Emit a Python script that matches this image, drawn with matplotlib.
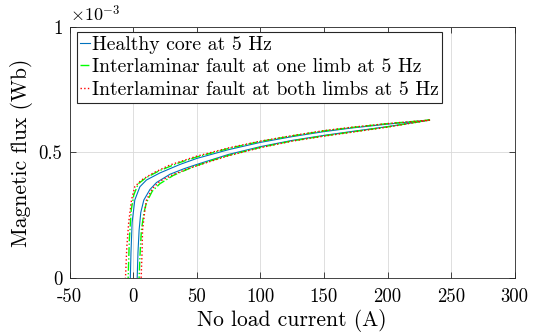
import numpy as np
import matplotlib
matplotlib.use("Agg")
import matplotlib.pyplot as plt

plt.rcParams['font.family'] = 'serif'
plt.rcParams['font.serif'] = ['cmr10', 'DejaVu Serif']
plt.rcParams['mathtext.fontset'] = 'cm'
plt.rcParams['axes.unicode_minus'] = False

# ----- Data (flux in 1e-3 Wb, current in A) -----
# each loop: rising (lower) branch, then falling (upper) branch
healthy_x = [3.0, 3.2, 3.8, 4.7, 6.0, 8.4, 13.2, 18.4, 29, 40, 50, 75, 100, 125, 150, 171, 200, 233,
             200, 171, 150, 125, 100, 75, 50, 36.8, 21, 10.5, 5.3, 1.3, -0.8, -1.7, -2.2, -2.3]
healthy_y = [-0.03, 0, 0.1, 0.19, 0.26, 0.31, 0.352, 0.38, 0.413, 0.435, 0.452, 0.492, 0.523, 0.548, 0.568, 0.583, 0.603, 0.629,
             0.613, 0.597, 0.583, 0.563, 0.540, 0.511, 0.476, 0.452, 0.418, 0.39, 0.363, 0.31, 0.22, 0.1, 0, -0.03]

one_limb_x = [4.5, 4.7, 5.5, 6.5, 8.5, 10.5, 15, 21, 31.5, 46, 60, 75, 100, 125, 150, 171, 200, 233,
              200, 171, 150, 125, 100, 75, 50, 36.8, 21, 10.5, 4, 0.5, -1.5, -3, -3.9, -4.0]
one_limb_y = [-0.03, 0, 0.1, 0.19, 0.26, 0.30, 0.345, 0.375, 0.408, 0.44, 0.465, 0.488, 0.520, 0.546, 0.566, 0.581, 0.602, 0.629,
              0.615, 0.599, 0.586, 0.566, 0.544, 0.516, 0.482, 0.46, 0.428, 0.40, 0.375, 0.33, 0.27, 0.15, 0, -0.03]

both_limbs_x = [6.2, 6.3, 7.0, 7.4, 9.0, 10.5, 15, 21, 31.5, 46, 60, 75, 100, 125, 150, 171, 200, 233,
                200, 171, 150, 125, 100, 75, 50, 29, 15.8, 6.6, 1.3, -1.3, -3.5, -5.0, -6.0, -6.1]
both_limbs_y = [-0.03, 0, 0.1, 0.19, 0.26, 0.31, 0.355, 0.385, 0.412, 0.44, 0.463, 0.487, 0.519, 0.545, 0.565, 0.580, 0.601, 0.629,
                0.615, 0.600, 0.587, 0.567, 0.545, 0.518, 0.485, 0.45, 0.418, 0.39, 0.363, 0.31, 0.22, 0.12, 0, -0.03]

labels = ["Healthy core at 5 Hz",
          "Interlaminar fault at one limb at 5 Hz",
          "Interlaminar fault at both limbs at 5 Hz"]

x_ticks = [-50, 0, 50, 100, 150, 200, 250, 300]
y_ticks = [0, 0.5, 1]
y_ticklabels = ['0', '0.5', '1']

ax_col = (0.15, 0.15, 0.15)

fig = plt.figure(figsize=(5.39, 3.35), dpi=100)
ax = fig.add_axes([0.129, 0.171, 0.826, 0.748])

ax.plot(healthy_x, healthy_y, '-', color=(0, 0.447, 0.741), lw=0.8, label=labels[0])
ax.plot(one_limb_x, one_limb_y, '-.', color=(0, 1, 0), lw=1.0, label=labels[1])
ax.plot(both_limbs_x, both_limbs_y, ':', color=(1, 0, 0), lw=1.0, label=labels[2])

ax.set_xlim(-50, 300)
ax.set_ylim(0, 1)
ax.set_xticks(x_ticks)
ax.set_xticklabels([str(t) for t in x_ticks])
ax.set_yticks(y_ticks)
ax.set_yticklabels(y_ticklabels)
ax.grid(True, color=(0.85, 0.85, 0.85), lw=0.6)
ax.set_axisbelow(True)
ax.tick_params(direction='in', top=True, right=True, length=4, width=0.6,
               colors=ax_col, labelsize=13.5, labelcolor='black')
ax.tick_params(axis='x', pad=7.5)
ax.tick_params(axis='y', pad=5)
for s in ax.spines.values():
    s.set_color(ax_col)
    s.set_linewidth(0.6)

ax.set_xlabel("No load current (A)", fontsize=15.5, labelpad=2)
ax.set_ylabel("Magnetic flux (Wb)", fontsize=15.5, labelpad=4)
ax.text(0.0, 1.01, r"$\times10^{-3}$", transform=ax.transAxes, fontsize=13,
        ha='left', va='bottom')

leg = ax.legend(loc='upper left', bbox_to_anchor=(0.016, 0.98), fontsize=14.2,
                handlelength=0.5, handletextpad=0.1, borderpad=0.18,
                labelspacing=0.24, fancybox=False, framealpha=1,
                borderaxespad=0)
leg.get_frame().set_edgecolor(ax_col)
leg.get_frame().set_linewidth(0.8)

plt.savefig("out.png", dpi=100)
